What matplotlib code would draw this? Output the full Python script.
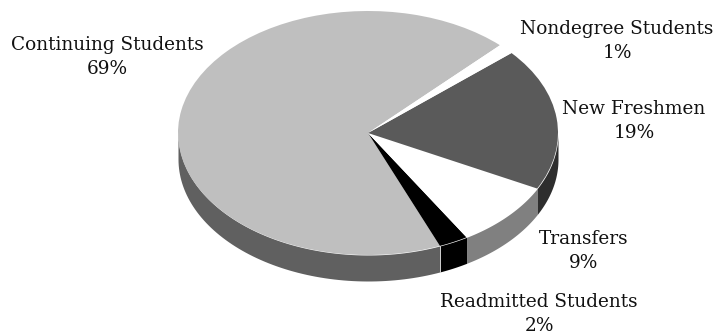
import numpy as np
import matplotlib
matplotlib.use('Agg')
import matplotlib.pyplot as plt

# slice order follows the pie going counterclockwise from the start angle
categories = ["Continuing Students", "Readmitted Students", "Transfers", "New Freshmen", "Nondegree Students"]
values = [68.4, 2.5, 8.8, 18.9, 1.4]
percent_labels = ["69%", "2%", "9%", "19%", "1%"]

top_colors = ["#bfbfbf", "#000000", "#ffffff", "#5a5a5a", "#ffffff"]
wall_colors = ["#606060", "#000000", "#808080", "#2e2e2e", "#ffffff"]

# label centers in pixels
label_pos = [(107, 57), (539, 314), (584, 251), (634, 121), (617, 41)]

W, H = 717, 336
START = 46
CX, CY, RX, RY, DEPTH = 368, 133, 190, 122, 26

plt.rcParams['font.family'] = ['DejaVu Serif']

fig = plt.figure(figsize=(W / 100, H / 100), dpi=100)
ax = fig.add_axes([(CX - RX) / W, 1 - (CY + RY) / H, 2 * RX / W, 2 * RY / H])

d = DEPTH / RY
angle = START
for i, (v, c) in enumerate(zip(values, wall_colors)):
    end = angle + v * 360 / sum(values)
    # only the front half of the rim shows
    a0, a1 = max(angle, 180), min(end, 360)
    if a1 > a0:
        t = np.radians(np.linspace(a0, a1, 80))
        xs = np.cos(t)
        ax.fill_between(xs, np.sin(t), np.sin(t) - d, color=c, lw=0, clip_on=False, zorder=1)
        if i == 0:
            # light seam between Continuing and Readmitted
            ax.plot([xs[-1], xs[-1]], [np.sin(t[-1]), np.sin(t[-1]) - d], color="#d0d0d0", lw=0.7,
                    clip_on=False, zorder=2)
    angle = end

wedges, _ = ax.pie(values, colors=top_colors, startangle=START, counterclock=True, radius=1)
for w in wedges:
    w.set_zorder(3)
ax.set_aspect('auto')
ax.set_xlim(-1, 1)
ax.set_ylim(-1, 1)

for name, pct, (x, y) in zip(categories, percent_labels, label_pos):
    fig.text(x / W, 1 - y / H, name + "\n" + pct, ha='center', va='center', fontsize=13.3,
             linespacing=1.45, color="#111111")

fig.savefig("out.png", dpi=100)
